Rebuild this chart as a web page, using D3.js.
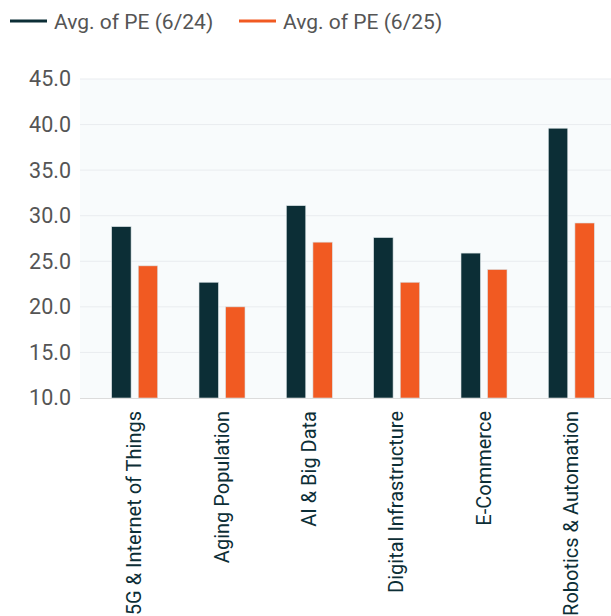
<!DOCTYPE html>
<html>
<head>
<meta charset="utf-8">
<script src="https://cdn.jsdelivr.net/npm/d3@7"></script>
<style>
  body { margin: 0; background: #fff; }
  text { font-family: Roboto, "Open Sans", sans-serif; }
</style>
</head>
<body>
<svg width="611" height="616"></svg>
<script>
// chart data
var categories = ["5G & Internet of Things", "Aging Population", "AI & Big Data",
                  "Digital Infrastructure", "E-Commerce", "Robotics & Automation"];
var seriesNames = ["Avg. of PE (6/24)", "Avg. of PE (6/25)"];
var pe2024 = [28.8, 22.7, 31.1, 27.6, 25.9, 39.6];
var pe2025 = [24.5, 20.0, 27.1, 22.7, 24.1, 29.2];
var yTicks = [10, 15, 20, 25, 30, 35, 40, 45];

function main() {
    var svg = d3.select("svg");
    var colors = ["#0c2e36", "#f15a22"];

    var left = 80, top = 79, bottom = 398, right = 611;

    var y = d3.scaleLinear().domain([10, 45]).range([bottom, top]);
    var x = d3.scaleBand().domain(categories).range([91, 615]).paddingInner(0).paddingOuter(0);
    var inner = d3.scaleBand().domain(seriesNames).range([-23, 23]).paddingInner(0.27);

    // plot background
    svg.append("rect")
        .attr("x", left).attr("y", top)
        .attr("width", right - left).attr("height", bottom - top)
        .attr("fill", "#f8fbfc");

    // grid lines
    svg.append("g").selectAll("line")
        .data(yTicks.slice(1))
        .enter().append("line")
        .attr("x1", left).attr("x2", right)
        .attr("y1", function(d) { return y(d); })
        .attr("y2", function(d) { return y(d); })
        .attr("stroke", "#e9ecef")
        .attr("stroke-width", 1);

    // y axis labels
    var yAxis = svg.append("g")
        .attr("transform", "translate(" + left + ",0)")
        .call(d3.axisLeft(y).tickValues(yTicks).tickSize(0).tickPadding(9).tickFormat(d3.format(".1f")));
    yAxis.select(".domain").remove();
    yAxis.selectAll("text")
        .attr("fill", "#555555")
        .style("font-size", "21.5px");

    // bars
    var table = categories.map(function(c, i) {
        return { cat: c, values: [pe2024[i], pe2025[i]] };
    });
    var groups = svg.append("g").selectAll("g")
        .data(table)
        .enter().append("g")
        .attr("transform", function(d) { return "translate(" + (x(d.cat) + x.bandwidth() / 2) + ",0)"; });

    groups.selectAll("rect")
        .data(function(d) { return d.values.map(function(v, j) { return { s: seriesNames[j], v: v, j: j }; }); })
        .enter().append("rect")
        .attr("x", function(d) { return inner(d.s); })
        .attr("width", inner.bandwidth())
        .attr("y", function(d) { return y(d.v); })
        .attr("height", function(d) { return bottom - y(d.v); })
        .attr("fill", function(d) { return colors[d.j]; })
        .attr("stroke", "#d9e2e5")
        .attr("stroke-width", 0.6);

    // x axis line
    svg.append("line")
        .attr("x1", left).attr("x2", right)
        .attr("y1", bottom + 0.5).attr("y2", bottom + 0.5)
        .attr("stroke", "#dcdcdc");

    // x axis labels, rotated
    svg.append("g").selectAll("text")
        .data(categories)
        .enter().append("text")
        .attr("transform", function(d) { return "translate(" + (x(d) + x.bandwidth() / 2 + 6.5) + ",411) rotate(-90)"; })
        .attr("text-anchor", "end")
        .attr("fill", "#0c2e36")
        .style("font-size", "20px")
        .text(function(d) { return d; });

    // legend
    var legendX = [10, 239];
    var legend = svg.append("g").selectAll("g")
        .data(seriesNames)
        .enter().append("g")
        .attr("transform", function(d, i) { return "translate(" + legendX[i] + ",21)"; });
    legend.append("line")
        .attr("x1", 0).attr("x2", 37)
        .attr("stroke", function(d, i) { return colors[i]; })
        .attr("stroke-width", 3);
    legend.append("text")
        .attr("x", 44).attr("y", 7.5)
        .attr("fill", "#555555")
        .style("font-size", "21px")
        .text(function(d) { return d; });
}
main();
</script>
</body>
</html>
